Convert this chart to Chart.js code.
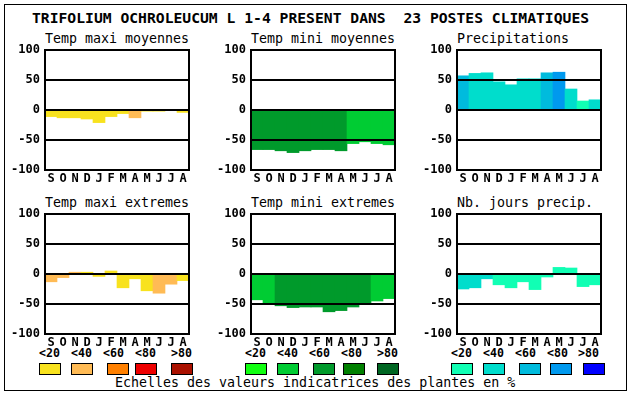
<!DOCTYPE html>
<html>
<head>
<meta charset="utf-8">
<script src="https://cdn.jsdelivr.net/npm/chart.js@4"></script>
<style>
  body { margin: 0; background: #fff; }
  #page { position: relative; width: 630px; height: 394px; overflow: hidden; }
  #cadre { position: absolute; left: 4px; top: 4px; width: 621px; height: 385px; border: 1px solid #000; }
  .txt { position: absolute; font-family: "DejaVu Sans Mono", monospace; color: #000; white-space: pre; line-height: 1; }
  .titre { font-size: 14.7px; font-weight: bold; }
  .sous { font-size: 13.3px; }
  .leg { font-size: 11.6px; font-weight: bold; }
  .boite { position: absolute; width: 20px; height: 10px; border: 1px solid #000; }
  canvas { position: absolute; }
</style>
</head>
<body>
<div id="page">
  <div id="cadre"></div>
  <div class="txt titre" style="left:32px; top:11px;">TRIFOLIUM OCHROLEUCUM L 1-4 PRESENT DANS  23 POSTES CLIMATIQUES</div>
  <div id="legende"></div>
  <div class="txt sous" style="left:115px; top:376px;">Echelles des valeurs indicatrices des plantes en %</div>
</div>
<script>
// Mois (septembre -> août)
const mois = ['S', 'O', 'N', 'D', 'J', 'F', 'M', 'A', 'M', 'J', 'J', 'A'];
const classes = ['<20', '<40', '<60', '<80', '>80'];
const graduations = [-100, -50, 0, 50, 100];

// Palettes des classes
const jaunes = ['#f8e21e', '#ffbb55', '#ff8000', '#ee0000', '#aa1100'];
const verts = ['#11ff11', '#00cc33', '#009a2b', '#008000', '#006622'];
const bleus = ['#11ffb4', '#00ddcc', '#00bbdd', '#0099ee', '#0000ff'];

const tmaxMoy = [-11, -13, -13, -15, -21, -11, -6, -13, -2, -2, 0, -4];
const tmaxMoyClasse = [0, 0, 0, 0, 0, 0, 0, 1, 0, 0, 0, 0];
const tminMoy = [-66, -66, -68, -71, -68, -66, -66, -68, -56, -53, -56, -58];
const tminMoyClasse = [2, 2, 2, 2, 2, 2, 2, 2, 1, 1, 1, 1];
const precip = [57, 61, 62, 47, 42, 52, 52, 62, 63, 35, 15, 17];
const precipClasse = [2, 1, 1, 1, 1, 1, 1, 2, 3, 1, 0, 1];
const tmaxExt = [-13, -6, 3, 3, -4, 5, -23, -8, -28, -32, -17, -11];
const tmaxExtClasse = [1, 1, 1, 0, 0, 0, 0, 0, 0, 1, 1, 0];
const tminExt = [-43, -48, -53, -56, -55, -55, -63, -61, -55, -50, -45, -41];
const tminExtClasse = [1, 1, 2, 2, 2, 2, 2, 2, 2, 2, 1, 1];
const joursPrecip = [-25, -23, -8, -18, -23, -13, -26, -5, 11, 10, -21, -18];
const joursPrecipClasse = [1, 1, 1, 0, 0, 0, 0, 0, 0, 0, 0, 0];

const page = document.getElementById('page');

// cadre noir autour de la zone du graphique
const cadrePlugin = {
    id: 'cadre',
    afterDraw(chart) {
        const a = chart.chartArea;
        const ctx = chart.ctx;
        ctx.save();
        ctx.strokeStyle = '#000';
        ctx.lineWidth = 2;
        ctx.strokeRect(a.left, a.top, a.right - a.left, a.bottom - a.top);
        ctx.restore();
    }
};

function sansMarges(s) {
    s.paddingTop = 0; s.paddingBottom = 0;
    s.paddingLeft = 0; s.paddingRight = 0;
}

function panneau(titre, x, y, valeurs, classesBarres, palette) {
    // x, y = coin haut gauche de la zone de tracé
    const t = document.createElement('div');
    t.className = 'txt sous';
    t.style.left = x + 'px';
    t.style.top = (y - 18) + 'px';
    t.textContent = titre;
    page.appendChild(t);

    const c = document.createElement('canvas');
    c.width = 191; c.height = 148;
    c.style.left = (x - 45) + 'px';
    c.style.top = (y - 6) + 'px';
    c.style.width = '191px'; c.style.height = '148px';
    page.appendChild(c);

    new Chart(c.getContext('2d'), {
        type: 'bar',
        data: {
            labels: mois,
            datasets: [{
                data: valeurs,
                backgroundColor: classesBarres.map(k => palette[k]),
                borderWidth: 0,
                categoryPercentage: 1,
                barPercentage: 1
            }]
        },
        options: {
            responsive: false,
            animation: false,
            layout: { padding: { top: 6, right: 2, left: 0, bottom: 0 } },
            plugins: { legend: { display: false }, tooltip: { enabled: false } },
            scales: {
                x: {
                    grid: { display: false, drawTicks: false },
                    border: { display: false },
                    ticks: { color: '#000', padding: 2, maxRotation: 0, autoSkip: false,
                             font: { family: 'DejaVu Sans Mono', size: 12, weight: 'bold' } },
                    afterFit(s) { s.height = 22; sansMarges(s); }
                },
                y: {
                    min: -100, max: 100,
                    afterBuildTicks(s) { s.ticks = graduations.map(v => ({ value: v })); },
                    grid: { color: '#000', lineWidth: 2, drawTicks: false, z: 1 },
                    border: { display: false },
                    ticks: { color: '#000', padding: 5,
                             font: { family: 'DejaVu Sans Mono', size: 12, weight: 'bold' } },
                    afterFit(s) { s.width = 45; sansMarges(s); }
                }
            }
        },
        plugins: [cadrePlugin]
    });
}

panneau('Temp maxi moyennes', 45, 50, tmaxMoy, tmaxMoyClasse, jaunes);
panneau('Temp mini moyennes', 251, 50, tminMoy, tminMoyClasse, verts);
panneau('Precipitations', 457, 50, precip, precipClasse, bleus);
panneau('Temp maxi extremes', 45, 214, tmaxExt, tmaxExtClasse, jaunes);
panneau('Temp mini extremes', 251, 214, tminExt, tminExtClasse, verts);
panneau('Nb. jours precip.', 457, 214, joursPrecip, joursPrecipClasse, bleus);

// Légende des classes
const legende = document.getElementById('legende');
const groupes = [
    { pal: jaunes, txt: [39, 71, 103, 135, 171], box: [39, 71, 107, 135, 171] },
    { pal: verts, txt: [245, 277, 309, 341, 377], box: [245, 277, 313, 343, 377] },
    { pal: bleus, txt: [451, 483, 515, 547, 578], box: [451, 483, 519, 550, 583] }
];
groupes.forEach(g => {
    classes.forEach((cl, i) => {
        const l = document.createElement('div');
        l.className = 'txt leg';
        l.style.left = g.txt[i] + 'px';
        l.style.top = '348px';
        l.textContent = cl;
        legende.appendChild(l);
        const b = document.createElement('div');
        b.className = 'boite';
        b.style.left = g.box[i] + 'px';
        b.style.top = '363px';
        b.style.background = g.pal[i];
        legende.appendChild(b);
    });
});
</script>
</body>
</html>
